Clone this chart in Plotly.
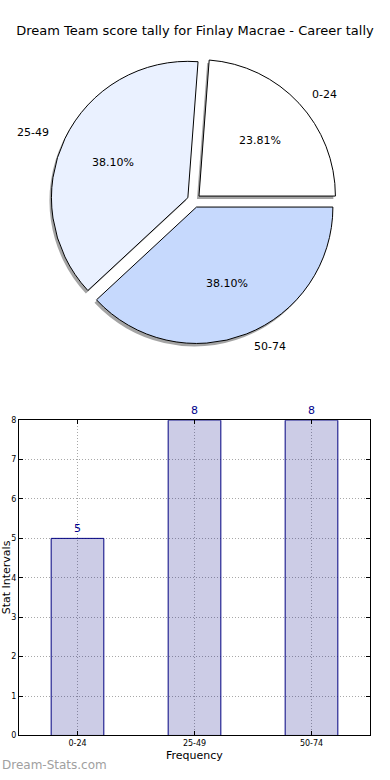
import math
import plotly.graph_objects as go

# ---- data ----
title_text = "Dream Team score tally for Finlay Macrae - Career tally"
categories = ["0-24", "25-49", "50-74"]
counts = [5, 8, 8]
pie_colors = ["#ffffff", "#eaf1ff", "#c6d9fd"]
bar_color = "rgba(0,0,128,0.2)"
bar_edge = "#000080"
x_title = "Frequency"
y_title = "Stat Intervals"
watermark = "Dream-Stats.com"

W, H = 390, 780
FONT = "DejaVu Sans"

# pie geometry (pixels)
cx, cy = 194, 199
pull = 0.05
r = 138
half = r * (1 + pull)

def px_x(x):
    return x / W

def px_y(y):
    return 1 - y / H

total = sum(counts)
# first slice starts at 3 o'clock and runs counterclockwise
rotation = 90 - 360 * counts[0] / total

fig = go.Figure()

# shadow pie
sdx, sdy = -2, 3
fig.add_trace(go.Pie(
    labels=categories, values=counts, sort=False, direction="counterclockwise",
    rotation=rotation, pull=[pull] * 3, textinfo="none", hoverinfo="skip",
    marker=dict(colors=["rgba(90,90,90,0.55)"] * 3, line=dict(width=0)),
    domain=dict(x=[px_x(cx - half + sdx), px_x(cx + half + sdx)],
                y=[px_y(cy + half + sdy), px_y(cy - half + sdy)]),
    showlegend=False,
))

# main pie
fig.add_trace(go.Pie(
    labels=categories, values=counts, sort=False, direction="counterclockwise",
    rotation=rotation, pull=[pull] * 3, textinfo="none",
    marker=dict(colors=pie_colors, line=dict(color="black", width=1)),
    domain=dict(x=[px_x(cx - half), px_x(cx + half)],
                y=[px_y(cy + half), px_y(cy - half)]),
    showlegend=False,
))

# labels and percentages positioned from values
cum = 0
annotations = []
for lab, v in zip(categories, counts):
    a0 = cum / total * 2 * math.pi
    cum += v
    a1 = cum / total * 2 * math.pi
    mid = (a0 + a1) / 2
    c, s = math.cos(mid), math.sin(mid)
    lx = cx + (1.1 + pull) * r * c
    ly = cy - (1.1 + pull) * r * s
    annotations.append(dict(
        x=px_x(lx), y=px_y(ly), xref="paper", yref="paper", text=lab,
        showarrow=False, xanchor="left" if c > 0 else "right", yanchor="middle",
        font=dict(family=FONT, size=11, color="black")))
    tx = cx + (0.6 + pull) * r * c
    ty = cy - (0.6 + pull) * r * s
    annotations.append(dict(
        x=px_x(tx), y=px_y(ty), xref="paper", yref="paper",
        text=f"{v / total * 100:.2f}%", showarrow=False,
        xanchor="center", yanchor="middle",
        font=dict(family=FONT, size=11, color="black")))

# bar chart
fig.add_trace(go.Bar(
    x=categories, y=counts, width=0.45,
    marker=dict(color=bar_color, line=dict(color=bar_edge, width=1)),
    text=[str(v) for v in counts], textposition="outside", cliponaxis=False,
    textfont=dict(family=FONT, size=11, color="#00008b"),
    xaxis="x", yaxis="y", showlegend=False,
))

annotations.append(dict(
    x=px_x(6), y=px_y(580), xref="paper", yref="paper", text=y_title,
    textangle=-90, showarrow=False, xanchor="center", yanchor="middle",
    font=dict(family=FONT, size=11, color="black")))
annotations.append(dict(
    x=px_x(194), y=px_y(760), xref="paper", yref="paper", text=x_title,
    showarrow=False, xanchor="center", yanchor="middle",
    font=dict(family=FONT, size=11, color="black")))
annotations.append(dict(
    x=px_x(0), y=px_y(770), xref="paper", yref="paper", text=watermark,
    showarrow=False, xanchor="left", yanchor="middle",
    font=dict(family=FONT, size=12, color="#a0a0a0")))

axis_common = dict(
    showline=True, linecolor="black", linewidth=1, mirror="ticks",
    ticks="inside", ticklen=4, tickcolor="black",
    showgrid=True, gridcolor="#a8a8a8", griddash="1px,2px", gridwidth=1,
    zeroline=False, tickfont=dict(family=FONT, size=8, color="black"),
)

fig.update_layout(
    width=W, height=H, margin=dict(l=0, r=0, t=0, b=0),
    paper_bgcolor="white", plot_bgcolor="white",
    title=dict(text=title_text, x=0.5, xanchor="center", y=px_y(30),
               yanchor="middle", font=dict(family=FONT, size=13, color="black")),
    xaxis=dict(domain=[px_x(19), px_x(370)], range=[-0.5, 2.5],
               type="category", anchor="y", **axis_common),
    yaxis=dict(domain=[px_y(740), px_y(421)], range=[0, 8], dtick=1,
               anchor="x", **axis_common),
    annotations=annotations,
    font=dict(family=FONT),
)

fig.write_html(
    "out.html", config={"displayModeBar": False},
    post_script=("document.body.style.margin='0';"
                 "document.body.style.overflow='hidden';"
                 "document.documentElement.style.overflow='hidden';"))
